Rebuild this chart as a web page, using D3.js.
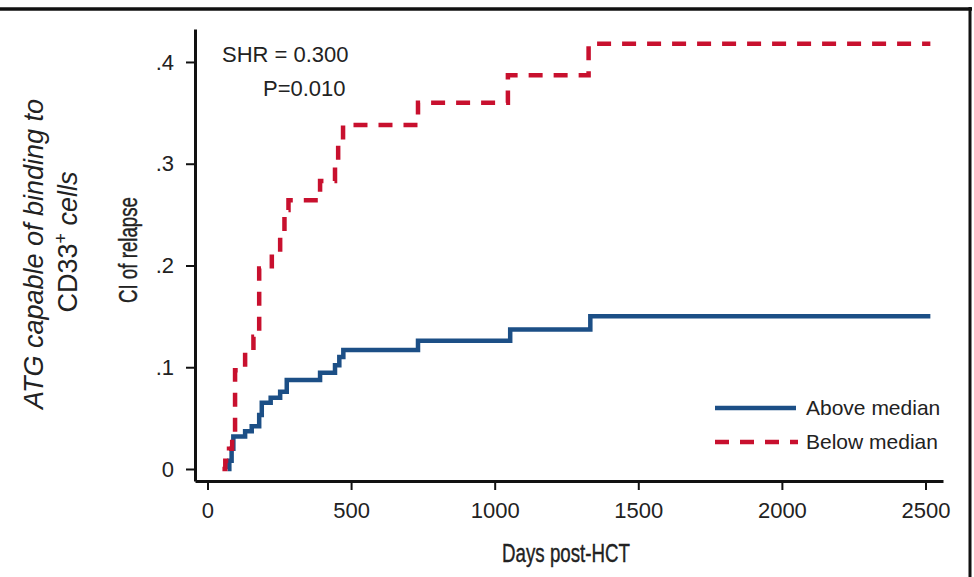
<!DOCTYPE html>
<html>
<head>
<meta charset="utf-8">
<script src="https://cdn.jsdelivr.net/npm/d3@7"></script>
<style>
  body { margin: 0; background: #fff; }
  text { font-family: "Liberation Sans", Arial, sans-serif; fill: #222; }
</style>
</head>
<body>
<script>
// Data
const aboveDays = [70, 76, 84, 90, 131, 154, 180, 189, 220, 253, 276, 392, 444, 459, 473, 733, 1054, 1333, 2517];
const aboveCI   = [0, 0.008, 0.02, 0.032, 0.037, 0.042, 0.053, 0.065, 0.070, 0.076, 0.0875, 0.0947, 0.102, 0.110, 0.117, 0.126, 0.137, 0.150, 0.150];
const belowDays = [52, 62, 75, 86, 96, 131, 160, 180, 224, 253, 268, 282, 392, 444, 455, 472, 733, 1046, 1327, 2517];
const belowCI   = [0, 0.008, 0.02, 0.03, 0.097, 0.115, 0.130, 0.197, 0.2135, 0.2316, 0.2545, 0.264, 0.283, 0.302, 0.320, 0.338, 0.360, 0.387, 0.418, 0.418];
const xTicks = [0, 500, 1000, 1500, 2000, 2500];
const yTicks = [0, 0.1, 0.2, 0.3, 0.4];
const yTickLabels = ["0", ".1", ".2", ".3", ".4"];
const seriesNames = ["Above median", "Below median"];

const width = 974, height = 577;
const blue = "#1c4f86", red = "#c8102e";

let svg = d3.select("body").append("svg")
    .attr("width", width)
    .attr("height", height)

let x = d3.scaleLinear().domain([-43.5, 2561]).range([195, 943])
let y = d3.scaleLinear().domain([-0.0118, 0.4324]).range([481, 29])

// frame lines
svg.append("line").attr("x1", 0).attr("x2", 972).attr("y1", 9).attr("y2", 9)
    .attr("stroke", "#111").attr("stroke-width", 3.5)
svg.append("line").attr("x1", 970).attr("x2", 970).attr("y1", 7).attr("y2", height)
    .attr("stroke", "#111").attr("stroke-width", 3)

// axes
let xAxis = svg.append("g")
    .attr("transform", `translate(0, ${481})`)
    .call(d3.axisBottom(x).tickValues(xTicks).tickFormat(d3.format("d")).tickSize(9).tickSizeOuter(0).tickPadding(12))
xAxis.select(".domain").attr("stroke", "#111").attr("stroke-width", 3)
xAxis.selectAll(".tick line").attr("stroke", "#111").attr("stroke-width", 2)
xAxis.selectAll(".tick text").attr("font-size", 22).attr("fill", "#222")
    .style("font-family", "Liberation Sans, Arial, sans-serif")

let yAxis = svg.append("g")
    .attr("transform", `translate(${195}, 0)`)
    .call(d3.axisLeft(y).tickValues(yTicks).tickFormat((d, i) => yTickLabels[i]).tickSize(9).tickSizeOuter(0).tickPadding(12))
yAxis.select(".domain").attr("stroke", "#111").attr("stroke-width", 3)
yAxis.selectAll(".tick line").attr("stroke", "#111").attr("stroke-width", 2)
yAxis.selectAll(".tick text").attr("font-size", 22).attr("fill", "#222")
    .style("font-family", "Liberation Sans, Arial, sans-serif")

// curves
let line = d3.line().curve(d3.curveStepAfter)
    .x(d => x(d[0]))
    .y(d => y(d[1]))

let aboveData = aboveDays.map((d, i) => [d, aboveCI[i]])
let belowData = belowDays.map((d, i) => [d, belowCI[i]])

svg.append("path").datum(aboveData)
    .attr("d", line)
    .attr("fill", "none")
    .attr("stroke", blue)
    .attr("stroke-width", 4.5)
svg.append("path").datum(belowData)
    .attr("d", line)
    .attr("fill", "none")
    .attr("stroke", red)
    .attr("stroke-width", 4.5)
    .attr("stroke-dasharray", "14,11")

// annotation
svg.append("text").attr("x", 222).attr("y", 62).attr("font-size", 22).text("SHR = 0.300")
svg.append("text").attr("x", 263).attr("y", 96).attr("font-size", 22).text("P=0.010")

// legend
svg.append("line").attr("x1", 715).attr("x2", 796).attr("y1", 408).attr("y2", 408)
    .attr("stroke", blue).attr("stroke-width", 4.5)
svg.append("line").attr("x1", 715).attr("x2", 798).attr("y1", 442).attr("y2", 442)
    .attr("stroke", red).attr("stroke-width", 4.5).attr("stroke-dasharray", "14,11")
svg.selectAll(".legend-label")
    .data(seriesNames).enter()
        .append("text")
    .attr("class", "legend-label")
    .attr("x", 806)
    .attr("y", (d, i) => 408 + i * 34)
    .attr("dy", "0.35em")
    .attr("font-size", 21)
    .text(d => d)

// axis titles (condensed look via horizontal squeeze)
svg.append("text")
    .attr("transform", "translate(566, 553) scale(0.72, 1)")
    .attr("text-anchor", "middle")
    .attr("dy", "0.35em")
    .attr("font-size", 26)
    .attr("stroke", "#222").attr("stroke-width", 0.4)
    .text("Days post-HCT")
svg.append("text")
    .attr("transform", "translate(128, 250) rotate(-90) scale(0.72, 1)")
    .attr("text-anchor", "middle")
    .attr("dy", "0.35em")
    .attr("font-size", 26)
    .attr("stroke", "#222").attr("stroke-width", 0.4)
    .text("CI of relapse")

// group label (two lines, rotated)
svg.append("text")
    .attr("transform", "translate(34, 254) rotate(-90)")
    .attr("text-anchor", "middle")
    .attr("dy", "0.35em")
    .attr("font-size", 27)
    .attr("fill", "#3a3a3a")
    .style("font-style", "italic")
    .text("ATG capable of binding to")
let grp2 = svg.append("text")
    .attr("transform", "translate(68, 242) rotate(-90)")
    .attr("text-anchor", "middle")
    .attr("dy", "0.35em")
    .attr("font-size", 27)
    .attr("fill", "#3a3a3a")
grp2.append("tspan").style("font-style", "normal").text("CD33")
grp2.append("tspan").attr("font-size", 18).attr("dy", "-0.6em").text("+")
grp2.append("tspan").attr("dy", "0.4em").style("font-style", "italic").text(" cells")
</script>
</body>
</html>
